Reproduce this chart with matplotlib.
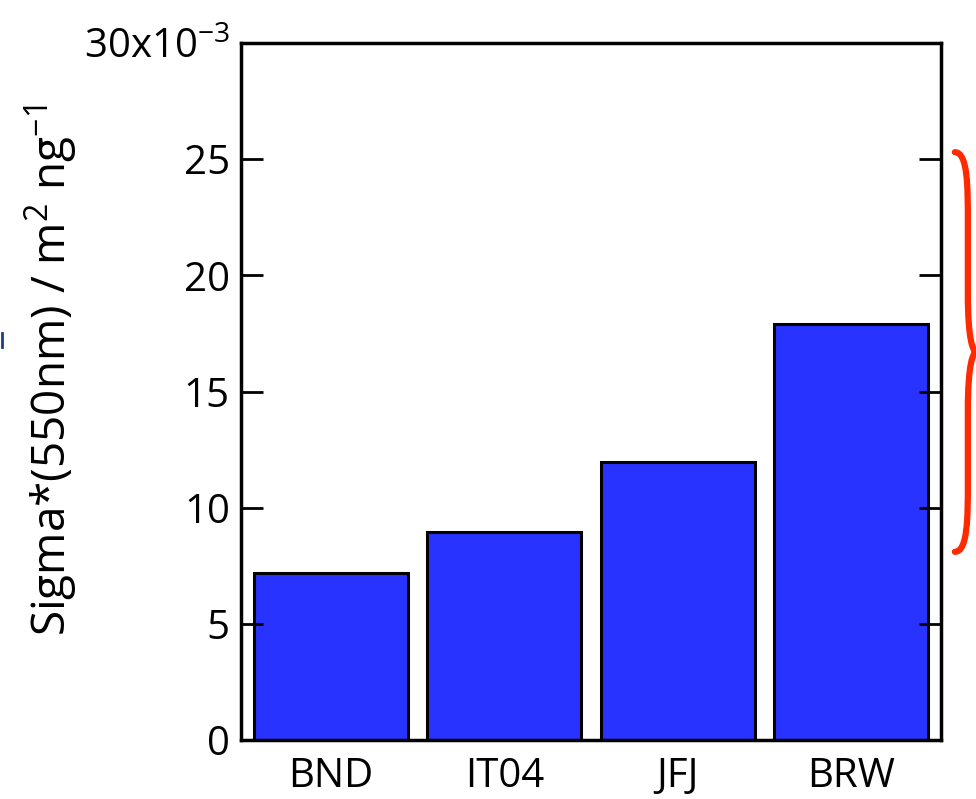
import matplotlib.pyplot as plt
from matplotlib.path import Path
from matplotlib.patches import PathPatch
from matplotlib.ticker import FuncFormatter

sites = ['BND', 'IT04', 'JFJ', 'BRW']
sigma = [7.2e-3, 8.95e-3, 11.95e-3, 17.9e-3]

plt.rcParams['font.family'] = ['Open Sans', 'DejaVu Sans']
plt.rcParams['mathtext.fontset'] = 'custom'
plt.rcParams['mathtext.rm'] = 'Open Sans'

fig = plt.figure(figsize=(9.76, 7.99), dpi=100)
ax = fig.add_axes([241 / 976, 1 - 740 / 799, 700 / 976, 697 / 799])

x = range(len(sites))
ax.bar(x, sigma, width=0.89, color='#2933FF', edgecolor='black', linewidth=2.2)

ax.set_xlim(-0.52, 3.52)
ax.set_ylim(0, 0.030)
ax.set_xticks(list(x))
ax.set_xticklabels(sites)
ax.set_yticks([0, 0.005, 0.010, 0.015, 0.020, 0.025, 0.030])

def ylab(v, pos):
    n = round(v * 1000)
    if n == 30:
        return '30x10$^{\\mathrm{-3}}$'
    return str(n)

ax.yaxis.set_major_formatter(FuncFormatter(ylab))
ax.tick_params(axis='y', direction='in', length=16, width=2, labelsize=29,
               right=True, pad=8)
ax.tick_params(axis='x', length=0, labelsize=29, pad=12)
for s in ax.spines.values():
    s.set_linewidth(2.5)

ax.set_ylabel('Sigma*(550nm) / m$^{\\mathrm{2}}$ ng$^{\\mathrm{-1}}$', fontsize=33)
ax.yaxis.set_label_coords(-0.232, 0.53)

# curly brace beside the right axis
tr = ax.transData
bx0, bx1 = 3.6, 3.725
y0, y1 = 0.0081, 0.0253
ym = (y0 + y1) / 2
k = 0.075
verts = [
    (bx0, y1), (bx0 + k, y1), (bx0 + k, y1 - 0.0015), (bx0 + k, y1 - 0.003),
    (bx0 + k, ym + 0.0025),
    (bx0 + k, ym + 0.0005), (bx1 - 0.02, ym), (bx1, ym),
    (bx1 - 0.02, ym), (bx0 + k, ym - 0.0005), (bx0 + k, ym - 0.0025),
    (bx0 + k, y0 + 0.003),
    (bx0 + k, y0 + 0.0015), (bx0 + k, y0), (bx0, y0),
]
codes = [Path.MOVETO, Path.CURVE4, Path.CURVE4, Path.CURVE4,
         Path.LINETO,
         Path.CURVE4, Path.CURVE4, Path.CURVE4,
         Path.CURVE4, Path.CURVE4, Path.CURVE4,
         Path.LINETO,
         Path.CURVE4, Path.CURVE4, Path.CURVE4]
brace = PathPatch(Path(verts, codes), facecolor='none', edgecolor='#FF2A00',
                  linewidth=4.5, transform=tr, clip_on=False, capstyle='round')
ax.add_patch(brace)

# small blue stroke at the far left edge
fig.add_artist(plt.Line2D([1.5 / 976, 1.5 / 976], [1 - 347 / 799, 1 - 333 / 799],
                          color='#1F3C88', linewidth=2))

fig.savefig('out.png', dpi=100)
